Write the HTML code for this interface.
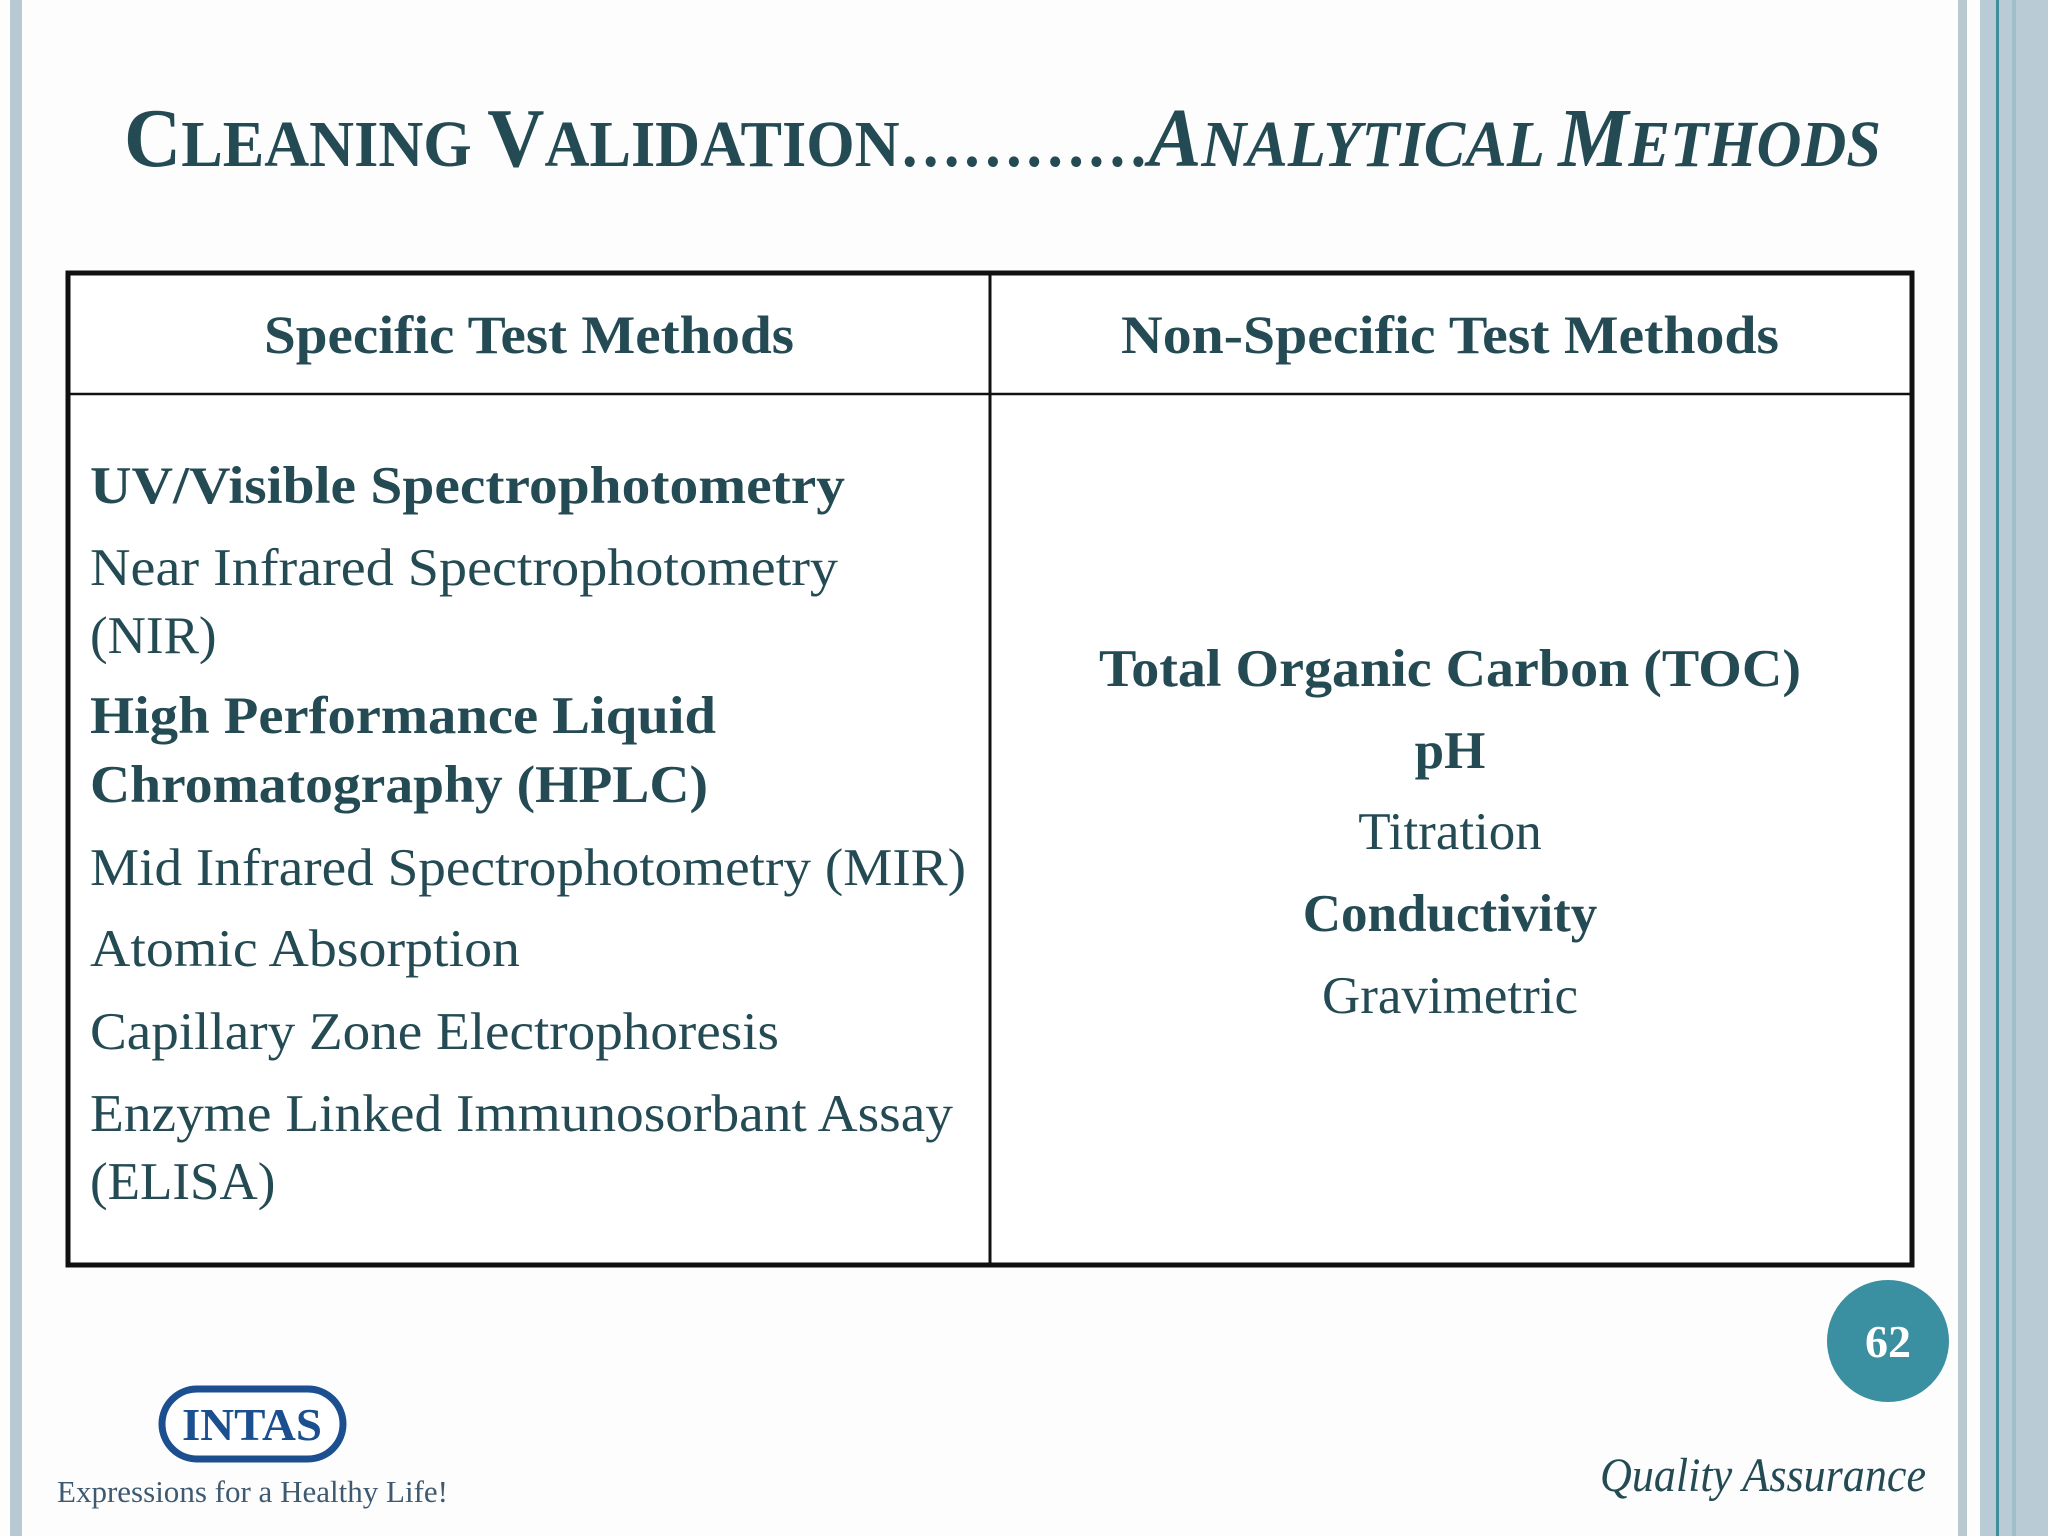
<!DOCTYPE html>
<html><head><meta charset="utf-8"><style>
html,body{margin:0;padding:0;background:#fff;}
svg{display:block;}
text{font-family:"Liberation Serif",serif;}
</style></head><body>
<svg width="2048" height="1536" viewBox="0 0 2048 1536">
<rect width="2048" height="1536" fill="#fdfdfe"/>
<rect x="10" y="0" width="12" height="1536" fill="#b7cad4"/>
<g>
<rect x="1958" y="0" width="9" height="1536" fill="#b8c9cf"/>
<rect x="1980" y="0" width="68" height="1536" fill="#b9ccd6"/>
<rect x="1996" y="0" width="3" height="1536" fill="#3f8e9c"/>
<rect x="2012" y="0" width="4" height="1536" fill="#9fc0c8"/>
</g>
<text x="124" y="166" fill="#244b54" font-weight="bold" font-size="66" textLength="1757" lengthAdjust="spacingAndGlyphs"><tspan font-size="84">C</tspan>LEANING <tspan font-size="84">V</tspan>ALIDATION…………<tspan font-style="italic"><tspan font-size="84">A</tspan>NALYTICAL <tspan font-size="84">M</tspan>ETHODS</tspan></text>
<g>
<rect x="68" y="273" width="1844" height="992" fill="#fff" stroke="#111" stroke-width="5"/>
<line x1="990" y1="273" x2="990" y2="1265" stroke="#111" stroke-width="3"/>
<line x1="68" y1="394" x2="1912" y2="394" stroke="#111" stroke-width="2.5"/>
</g>
<g fill="#244b54" font-weight="bold" font-size="54" text-anchor="middle">
<text x="529" y="353" textLength="530" lengthAdjust="spacingAndGlyphs">Specific Test Methods</text>
<text x="1450" y="353" textLength="658" lengthAdjust="spacingAndGlyphs">Non-Specific Test Methods</text>
</g>
<g fill="#244b54" font-size="53">
<text x="90" y="503" font-weight="bold" textLength="755" lengthAdjust="spacingAndGlyphs">UV/Visible Spectrophotometry</text>
<text x="90" y="585" textLength="748" lengthAdjust="spacingAndGlyphs">Near Infrared Spectrophotometry</text>
<text x="90" y="653">(NIR)</text>
<text x="90" y="733" font-weight="bold" textLength="626" lengthAdjust="spacingAndGlyphs">High Performance Liquid</text>
<text x="90" y="802" font-weight="bold" textLength="618" lengthAdjust="spacingAndGlyphs">Chromatography (HPLC)</text>
<text x="90" y="885" textLength="876" lengthAdjust="spacingAndGlyphs">Mid Infrared Spectrophotometry (MIR)</text>
<text x="90" y="966" textLength="430" lengthAdjust="spacingAndGlyphs">Atomic Absorption</text>
<text x="90" y="1049" textLength="689" lengthAdjust="spacingAndGlyphs">Capillary Zone Electrophoresis</text>
<text x="90" y="1131" textLength="863" lengthAdjust="spacingAndGlyphs">Enzyme Linked Immunosorbant Assay</text>
<text x="90" y="1199">(ELISA)</text>
</g>
<g fill="#244b54" font-size="53" text-anchor="middle">
<text x="1450" y="686" font-weight="bold" textLength="702" lengthAdjust="spacingAndGlyphs">Total Organic Carbon (TOC)</text>
<text x="1450" y="768" font-weight="bold">pH</text>
<text x="1450" y="849">Titration</text>
<text x="1450" y="931" font-weight="bold">Conductivity</text>
<text x="1450" y="1013">Gravimetric</text>
</g>
<g>
<circle cx="1888" cy="1341" r="61" fill="#3a8fa0"/>
<text x="1888" y="1357" fill="#fff" font-weight="bold" font-size="46" text-anchor="middle">62</text>
</g>
<text x="1600" y="1491" fill="#244b54" font-style="italic" font-size="48" textLength="326" lengthAdjust="spacingAndGlyphs">Quality Assurance</text>
<g>
<rect x="162" y="1389" width="181" height="70" rx="35" fill="#fff" stroke="#1b4f8f" stroke-width="7"/>
<text x="252" y="1440" fill="#1b4f8f" font-family="Liberation Sans,sans-serif" font-weight="bold" font-size="46" text-anchor="middle" textLength="140" lengthAdjust="spacingAndGlyphs">INTAS</text>
<text x="57" y="1502" fill="#3e5a70" font-size="31" textLength="391" lengthAdjust="spacingAndGlyphs">Expressions for a Healthy Life!</text>
</g>
</svg>
</body></html>
